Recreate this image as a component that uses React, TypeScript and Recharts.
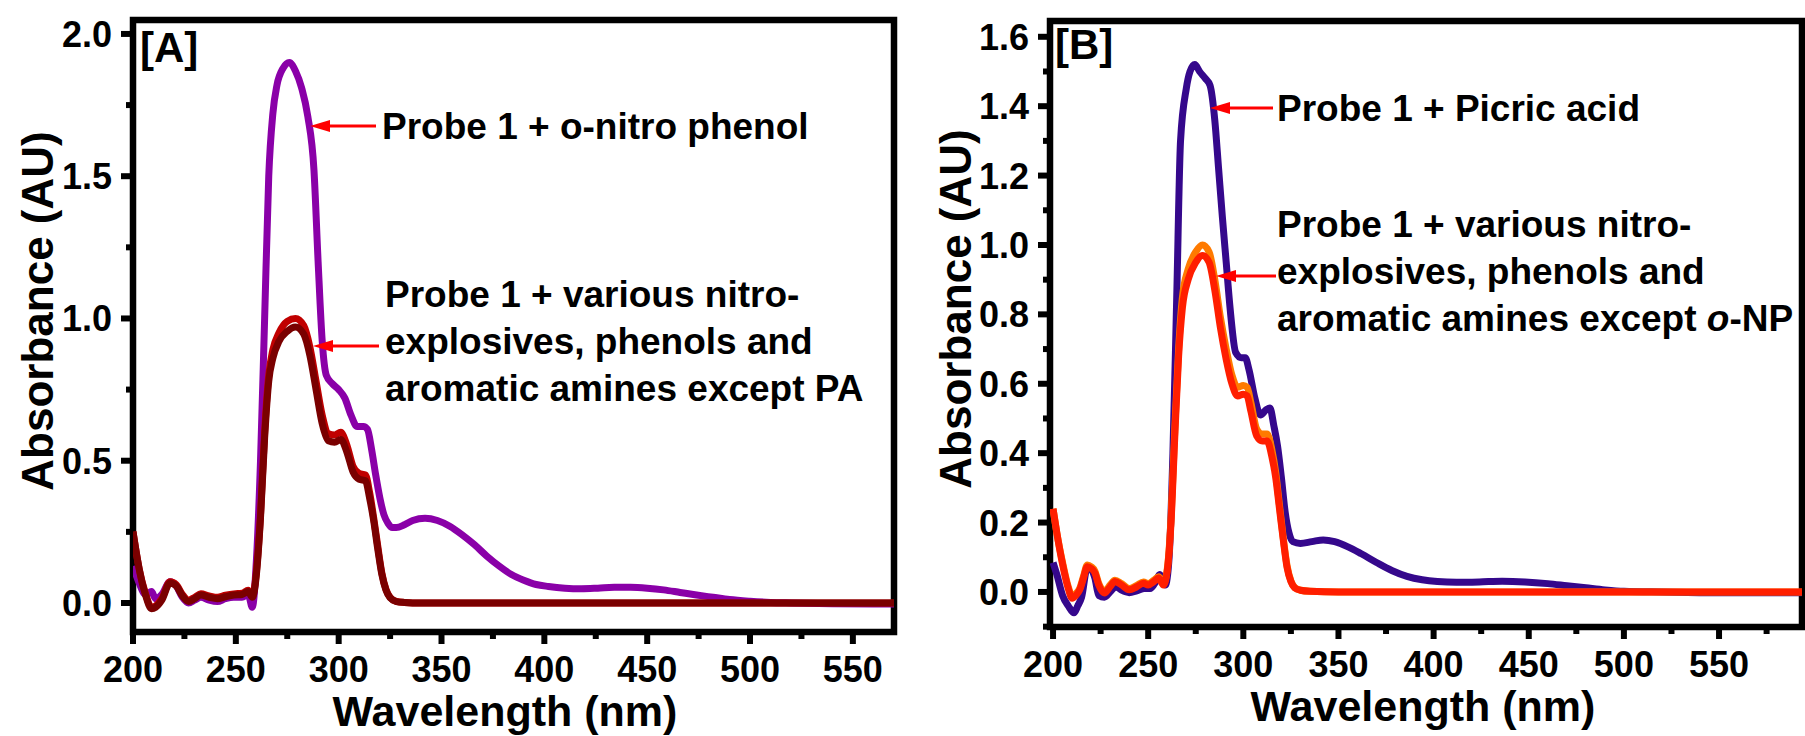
import { LineChart, Line, XAxis, YAxis, ReferenceArea } from "recharts";

const FONT = "'Liberation Sans', Arial, Helvetica, sans-serif";

// ---- Panel A: probe 1 + o-nitro phenol vs. the other analytes ----
const aNitroNm = [
  200, 203, 206, 209, 211, 214, 218, 221, 224, 227, 230, 233, 237, 241, 245, 249, 253, 256, 258, 260,
  262, 264, 266, 268, 270, 273, 276, 279, 282, 285, 288, 290, 292, 294, 297, 300, 303, 306, 309, 312,
  314, 316, 318, 320, 322, 324, 326, 328, 332, 336, 342, 348, 354, 360, 366, 372, 378, 384, 390, 396,
  402, 410, 418, 426, 434, 442, 450, 458, 466, 474, 482, 490, 500, 510, 520, 540, 560, 570,
];
const aNitroAbs = [
  0.13, 0.07, 0.03, 0.04, 0.015, 0.03, 0.075, 0.06, 0.02, 0.0, 0.01, 0.02, 0.01, 0.005, 0.015, 0.02, 0.02, 0.03, -0.015, 0.15,
  0.5, 1.0, 1.5, 1.72, 1.82, 1.88, 1.9, 1.87, 1.81, 1.71, 1.52, 1.2, 0.92, 0.8, 0.77, 0.75, 0.72, 0.66, 0.62, 0.62,
  0.61, 0.54, 0.45, 0.37, 0.31, 0.28, 0.265, 0.265, 0.275, 0.29, 0.298, 0.29, 0.27, 0.24, 0.205, 0.165, 0.13, 0.1, 0.08, 0.065,
  0.058, 0.052, 0.05, 0.052, 0.055, 0.055, 0.052, 0.046, 0.037, 0.028, 0.02, 0.012, 0.006, 0.002, 0.0, -0.003, -0.004, -0.004,
];

const aOtherNm = [
  200, 203, 206, 209, 211, 214, 218, 221, 224, 227, 230, 233, 237, 241, 245, 249, 253, 256, 258, 260,
  262, 264, 266, 268, 271, 275, 279, 283, 286, 289, 292, 295, 298, 301, 304, 307, 310, 313, 315, 317,
  319, 321, 323, 325, 328, 332, 340, 360, 400, 450, 500, 570,
];
const aOtherAbs = [
  0.25, 0.12, 0.03, -0.02, -0.015, 0.01, 0.07, 0.06, 0.025, 0.005, 0.015, 0.028, 0.02, 0.015, 0.022, 0.028, 0.03, 0.04, 0.02, 0.1,
  0.3, 0.58, 0.78, 0.86, 0.92, 0.955, 0.97, 0.945, 0.87, 0.75, 0.63, 0.57, 0.565, 0.575, 0.53, 0.46, 0.435, 0.43, 0.37, 0.29,
  0.19, 0.1, 0.045, 0.018, 0.005, 0.002, 0.0, 0.0, 0.0, 0.0, 0.0, 0.0,
];
const aOtherHighAbs = [
  0.25, 0.12, 0.035, -0.015, -0.01, 0.015, 0.075, 0.065, 0.03, 0.01, 0.02, 0.032, 0.025, 0.02, 0.027, 0.032, 0.034, 0.045, 0.025, 0.11,
  0.31, 0.6, 0.8, 0.89, 0.95, 0.99, 1.0, 0.975, 0.9, 0.78, 0.66, 0.595, 0.59, 0.6, 0.555, 0.48, 0.455, 0.45, 0.39, 0.3,
  0.2, 0.105, 0.048, 0.02, 0.006, 0.002, 0.0, 0.0, 0.0, 0.0, 0.0, 0.0,
];

// ---- Panel B: probe 1 + picric acid vs. the other analytes ----
const bPicricNm = [
  200, 202, 205, 208, 211, 213, 215, 218, 220, 222, 224, 227, 230, 233, 236, 240, 244, 248, 251, 254,
  256, 259, 261, 263, 265, 267, 270, 272, 274.5, 277, 280, 282.5, 285, 287, 289, 291, 293, 296, 299, 301,
  303, 306, 309, 312, 314, 316, 318, 320, 322, 324, 326, 330, 336, 342, 348, 355, 362, 370, 378, 386,
  394, 402, 412, 424, 436, 448, 460, 470, 480, 490, 500, 520, 550, 575, 594,
];
const bPicricAbs = [
  0.085, 0.05, -0.01, -0.04, -0.06, -0.04, -0.015, 0.07, 0.065, 0.04, -0.01, -0.015, 0.0, 0.015, 0.005, -0.002, 0.003, 0.01, 0.01, 0.03,
  0.05, 0.02, 0.1, 0.4, 0.85, 1.3, 1.45, 1.5, 1.52, 1.5, 1.48, 1.46, 1.36, 1.22, 1.08, 0.95, 0.82, 0.69, 0.675, 0.675,
  0.64, 0.56, 0.51, 0.525, 0.53, 0.48, 0.42, 0.33, 0.23, 0.17, 0.145, 0.14, 0.145, 0.15, 0.145, 0.13, 0.11, 0.085, 0.062, 0.045,
  0.035, 0.03, 0.028, 0.029, 0.031, 0.029, 0.024, 0.018, 0.012, 0.006, 0.002, 0.0, -0.002, -0.002, -0.002,
];

const bOtherNm = [
  200, 202, 205, 208, 210, 212, 214, 216, 218, 220, 222, 224, 227, 230, 232.5, 236, 240, 244, 247.5, 250,
  253, 255.5, 258, 260, 262, 264, 266, 268, 271, 275, 278.5, 282, 285, 288, 291, 294, 297, 300, 302, 304,
  307, 310, 312.5, 315, 317, 319, 321, 323, 325, 327, 330, 335, 350, 400, 500, 594,
];
const bOtherAbs = [
  0.24, 0.17, 0.08, 0.01, -0.018, -0.01, 0.006, 0.04, 0.073, 0.068, 0.055, 0.02, -0.003, 0.015, 0.03, 0.02, 0.006, 0.015, 0.025, 0.02,
  0.03, 0.04, 0.02, 0.06, 0.2, 0.45, 0.68, 0.82, 0.9, 0.95, 0.97, 0.95, 0.87, 0.76, 0.67, 0.6, 0.565, 0.57, 0.565, 0.52,
  0.45, 0.435, 0.435, 0.39, 0.33, 0.24, 0.15, 0.07, 0.03, 0.012, 0.005, 0.002, 0.0, 0.0, 0.0, 0.0,
];
const bOtherHighAbs = [
  0.24, 0.17, 0.085, 0.015, -0.012, -0.005, 0.01, 0.045, 0.078, 0.073, 0.06, 0.025, 0.002, 0.02, 0.034, 0.024, 0.01, 0.019, 0.029, 0.024,
  0.034, 0.044, 0.025, 0.065, 0.21, 0.47, 0.7, 0.85, 0.93, 0.98, 1.0, 0.98, 0.9, 0.79, 0.7, 0.625, 0.59, 0.595, 0.59, 0.545,
  0.47, 0.455, 0.455, 0.41, 0.345, 0.25, 0.155, 0.075, 0.032, 0.013, 0.005, 0.002, 0.0, 0.0, 0.0, 0.0,
];

// ---- axes ----
const aXMajor = [200, 250, 300, 350, 400, 450, 500, 550];
const aXMinor = [225, 275, 325, 375, 425, 475, 525];
const aYMajor = [0, 0.5, 1.0, 1.5, 2.0];
const aYMinor = [0.25, 0.75, 1.25, 1.75];
const bXMajor = [200, 250, 300, 350, 400, 450, 500, 550];
const bXMinor = [225, 275, 325, 375, 425, 475, 525, 575];
const bYMajor = [0, 0.2, 0.4, 0.6, 0.8, 1.0, 1.2, 1.4, 1.6];
const bYMinor = [-0.1, 0.1, 0.3, 0.5, 0.7, 0.9, 1.1, 1.3, 1.5];

const aXDomain: [number, number] = [200, 570];
const aYDomain: [number, number] = [-0.102, 2.049];
const bXDomain: [number, number] = [198.4, 593.6];
const bYDomain: [number, number] = [-0.101, 1.6455];

const toPoints = (nm: number[], abs: number[]) => nm.map((x, i) => ({ x, y: abs[i] }));

const makeXTick = (majors: number[]) => (p: any) => {
  const v = p.payload.value;
  const major = majors.includes(v);
  return (
    <g>
      <line x1={p.x} x2={p.x} y1={p.y} y2={p.y + (major ? 12 : 7)} stroke="#000" strokeWidth={6} />
      {major && (
        <text x={p.x} y={p.y + 50} textAnchor="middle" fontSize={36} fontWeight="bold" fontFamily={FONT} fill="#000">
          {v}
        </text>
      )}
    </g>
  );
};

const makeYTick = (majors: number[], digits: number) => (p: any) => {
  const v = p.payload.value;
  const major = majors.some((m) => Math.abs(m - v) < 1e-9);
  return (
    <g>
      <line x1={p.x} x2={p.x - (major ? 12 : 7)} y1={p.y} y2={p.y} stroke="#000" strokeWidth={6} />
      {major && (
        <text x={p.x - 21} y={p.y + 13} textAnchor="end" fontSize={36} fontWeight="bold" fontFamily={FONT} fill="#000">
          {v.toFixed(digits)}
        </text>
      )}
    </g>
  );
};

const lineProps = {
  dataKey: "y",
  type: "monotone" as const,
  dot: false,
  strokeWidth: 7,
  strokeLinejoin: "round" as const,
  isAnimationActive: false,
};

function Arrow({ tail, tip, y }: { tail: number; tip: number; y: number }) {
  return (
    <g>
      <line x1={tail} y1={y} x2={tip + 16} y2={y} stroke="#ff0000" strokeWidth={3} />
      <polygon points={`${tip},${y} ${tip + 20},${y - 6} ${tip + 20},${y + 6}`} fill="#ff0000" />
    </g>
  );
}

const txt = { fontFamily: FONT, fontWeight: "bold" as const, fill: "#000" };

export default function App() {
  return (
    <div style={{ position: "absolute", left: 0, top: 0, width: 1805, height: 736, background: "#fff" }}>
      <div style={{ position: "absolute", left: 0, top: 0 }}>
        <LineChart width={900} height={736} margin={{ top: 20, right: 6, bottom: 0, left: 0 }}>
          <XAxis
            dataKey="x"
            type="number"
            domain={aXDomain}
            ticks={[...aXMajor, ...aXMinor].sort((a, b) => a - b)}
            interval={0}
            height={104}
            tickSize={0}
            tickMargin={0}
            axisLine={false}
            tickLine={false}
            tick={makeXTick(aXMajor)}
            allowDataOverflow
          />
          <YAxis
            type="number"
            domain={aYDomain}
            ticks={[...aYMajor, ...aYMinor].sort((a, b) => a - b)}
            interval={0}
            width={133}
            tickSize={0}
            tickMargin={0}
            axisLine={false}
            tickLine={false}
            tick={makeYTick(aYMajor, 1)}
            allowDataOverflow
          />
          <ReferenceArea x1={aXDomain[0]} x2={aXDomain[1]} y1={aYDomain[0]} y2={aYDomain[1]} fill="none" stroke="#000" strokeWidth={6.5} fillOpacity={0} />
          <Line {...lineProps} data={toPoints(aNitroNm, aNitroAbs)} stroke="#8a00a8" />
          <Line {...lineProps} data={toPoints(aOtherNm, aOtherHighAbs)} stroke="#c00000" />
          <Line {...lineProps} data={toPoints(aOtherNm, aOtherAbs)} stroke="#7a0000" />
        </LineChart>
      </div>
      <div style={{ position: "absolute", left: 900, top: 0 }}>
        <LineChart width={905} height={736} margin={{ top: 21, right: 3, bottom: 0, left: 0 }}>
          <XAxis
            dataKey="x"
            type="number"
            domain={bXDomain}
            ticks={[...bXMajor, ...bXMinor].sort((a, b) => a - b)}
            interval={0}
            height={109}
            tickSize={0}
            tickMargin={0}
            axisLine={false}
            tickLine={false}
            tick={makeXTick(bXMajor)}
            allowDataOverflow
          />
          <YAxis
            type="number"
            domain={bYDomain}
            ticks={[...bYMajor, ...bYMinor].sort((a, b) => a - b)}
            interval={0}
            width={150}
            tickSize={0}
            tickMargin={0}
            axisLine={false}
            tickLine={false}
            tick={makeYTick(bYMajor, 1)}
            allowDataOverflow
          />
          <ReferenceArea x1={bXDomain[0]} x2={bXDomain[1]} y1={bYDomain[0]} y2={bYDomain[1]} fill="none" stroke="#000" strokeWidth={6.5} fillOpacity={0} />
          <Line {...lineProps} data={toPoints(bPicricNm, bPicricAbs)} stroke="#35088c" />
          <Line {...lineProps} data={toPoints(bOtherNm, bOtherHighAbs)} stroke="#ff7a00" />
          <Line {...lineProps} data={toPoints(bOtherNm, bOtherAbs)} stroke="#ff1e00" />
        </LineChart>
      </div>
      <svg width={1805} height={736} style={{ position: "absolute", left: 0, top: 0, pointerEvents: "none" }}>
        {/* panel A */}
        <text x={140} y={62} fontSize={42} {...txt}>[A]</text>
        <text x={37} y={311} fontSize={44} textAnchor="middle" dominantBaseline="central" transform="rotate(-90 37 311)" {...txt}>
          Absorbance (AU)
        </text>
        <text x={505} y={726} fontSize={43} textAnchor="middle" {...txt}>Wavelength (nm)</text>
        <Arrow tail={376} tip={310} y={126} />
        <text x={382} y={139} fontSize={37} {...txt}>Probe 1 + o-nitro phenol</text>
        <Arrow tail={379} tip={313} y={346} />
        <text x={385} y={307} fontSize={37} {...txt}>Probe 1 + various nitro-</text>
        <text x={385} y={354} fontSize={37} {...txt}>explosives, phenols and</text>
        <text x={385} y={401} fontSize={37} {...txt}>aromatic amines except PA</text>

        {/* panel B */}
        <text x={1055} y={59} fontSize={42} {...txt}>[B]</text>
        <text x={955} y={309} fontSize={44} textAnchor="middle" dominantBaseline="central" transform="rotate(-90 955 309)" {...txt}>
          Absorbance (AU)
        </text>
        <text x={1423} y={721} fontSize={43} textAnchor="middle" {...txt}>Wavelength (nm)</text>
        <Arrow tail={1273} tip={1210} y={108} />
        <text x={1277} y={121} fontSize={37} {...txt}>Probe 1 + Picric acid</text>
        <Arrow tail={1276} tip={1216} y={276} />
        <text x={1277} y={237} fontSize={37} {...txt}>Probe 1 + various nitro-</text>
        <text x={1277} y={284} fontSize={37} {...txt}>explosives, phenols and</text>
        <text x={1277} y={331} fontSize={37} {...txt}>
          aromatic amines except <tspan fontStyle="italic">o</tspan>-NP
        </text>
      </svg>
    </div>
  );
}
